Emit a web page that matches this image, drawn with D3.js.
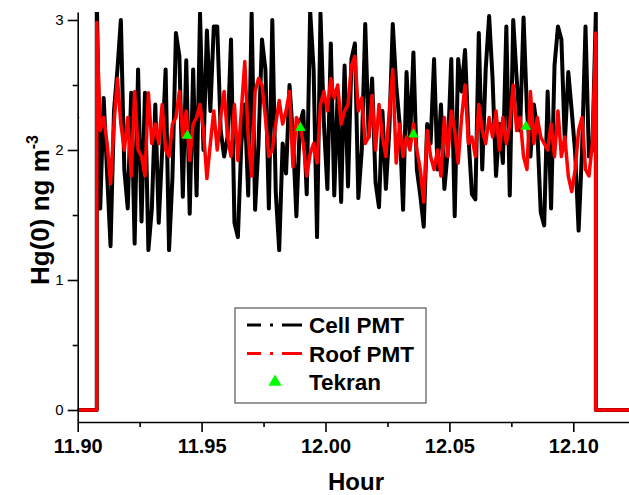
<!DOCTYPE html>
<html><head><meta charset="utf-8">
<script src="https://cdn.jsdelivr.net/npm/d3@7"></script>
<style>
body{margin:0;background:#fff;}
text{font-family:Arial,"Liberation Sans",sans-serif;}
</style></head>
<body><svg id="c" width="629" height="495"></svg>
<script>
// ---- data ----
const startHour = 11.9077;          // first reading (hour)
const stepSec = 5;                  // sampling interval, s
const offBefore = [11.895, 11.9077]; // instrument at 0 before start
const offAfter = [12.1091, 12.13];   // instrument at 0 after end
const cellPMT = [
 3.2,1.55,2.40,1.82,1.26,2.30,2.62,3.00,1.85,1.55,2.44,1.28,2.62,1.45,2.44,1.23,1.55,2.35,1.44,2.00,2.62,1.23,1.80,2.90,
 2.72,1.64,2.69,1.51,2.62,1.65,3.05,2.00,2.92,2.30,2.95,2.95,2.15,1.95,2.10,2.85,1.44,1.33,2.05,2.35,1.65,3.05,1.54,2.05,
 2.85,2.62,1.55,3.00,1.68,1.23,2.05,1.82,2.50,2.10,1.49,2.20,2.30,1.66,3.07,2.62,1.33,3.05,2.20,1.70,2.82,1.65,2.45,1.60,2.65,
 1.72,2.70,2.82,1.63,2.00,2.97,2.10,2.55,1.75,1.56,2.30,1.70,2.15,2.97,2.50,2.20,1.54,2.60,2.05,2.75,1.85,1.65,1.41,2.20,
 2.05,2.70,1.85,2.35,1.70,2.00,2.70,1.49,2.70,2.45,2.77,2.10,1.66,1.62,2.90,1.85,2.62,3.03,2.55,1.80,2.20,1.90,2.95,1.65,
 3.00,2.55,2.15,3.02,2.30,1.95,2.35,2.15,1.52,1.42,2.45,1.55,2.65,2.95,2.85,2.05,2.60,2.30,1.98,1.38,2.00,2.95,1.95,2.00,3.05];
const roofPMT = [
 2.98,2.15,2.25,2.05,1.74,2.20,2.55,2.20,2.00,2.25,1.80,2.45,2.00,1.95,1.80,2.44,2.05,2.20,2.05,2.35,2.00,1.95,2.20,2.25,
 2.45,2.10,2.30,1.92,2.20,2.25,2.35,2.15,1.78,2.05,2.30,2.00,2.25,2.45,2.10,1.95,2.35,1.92,2.30,2.68,2.10,1.80,2.45,2.55,
 2.50,2.25,1.95,2.00,2.20,2.38,2.20,2.30,2.45,1.87,2.25,2.20,2.05,1.80,1.97,2.05,1.90,2.35,2.45,2.30,2.55,2.40,2.50,2.20,2.30,
 2.35,2.65,2.72,2.30,2.40,2.05,2.10,2.42,2.00,2.35,2.10,1.95,2.30,2.62,1.90,2.20,1.95,2.10,2.00,2.20,2.00,1.85,1.60,2.15,
 1.95,1.85,2.00,1.80,2.25,1.95,2.30,2.15,1.90,2.25,2.50,2.05,2.10,1.95,2.35,2.15,2.05,2.25,2.10,2.30,2.00,2.25,2.05,2.20,
 2.50,2.15,2.25,1.95,1.85,2.45,2.05,2.25,2.10,2.05,2.00,2.20,1.95,2.30,1.95,2.10,1.80,1.68,1.85,2.15,2.25,1.85,1.80,2.05,2.90];
const tekranHour = [11.8987, 11.9442, 11.9899, 12.0355, 12.0809];
const tekranVal  = [2.27, 2.11, 2.17, 2.12, 2.18];
const xTicks = [11.90, 11.95, 12.00, 12.05, 12.10];
const xMinor = [11.925, 11.975, 12.025, 12.075];
const yTicks = [0, 1, 2, 3];
const yMinor = [0.5, 1.5, 2.5];
const legendLabels = ["Cell PMT", "Roof PMT", "Tekran"];

// ---- layout ----
const L = 77.7, R = 629, T = 12, B = 422;
const svg = d3.select("#c");
const x0 = d3.scaleLinear().domain([11.9, 12.10]).range([L, 573.3]);
const x = d3.scaleLinear().domain([11.9, x0.invert(R)]).range([L, R]);
const y0 = d3.scaleLinear().domain([0, 3]).range([410, 20]);
const y = d3.scaleLinear().domain([y0.invert(B), y0.invert(T)]).range([B, T]);

svg.append("defs").append("clipPath").attr("id","clip")
  .append("rect").attr("x",L).attr("y",T).attr("width",R-L).attr("height",B-T);

function series(vals){
  const pts = [[offBefore[0],0],[offBefore[1],0]];
  vals.forEach((v,i)=>pts.push([startHour + i*stepSec/3600, v]));
  pts.push([offAfter[0],0],[offAfter[1],0]);
  return pts;
}
const line = d3.line().x(d=>x(d[0])).y(d=>y(d[1]));
const g = svg.append("g").attr("clip-path","url(#clip)");
g.append("path").datum(series(cellPMT)).attr("d",line)
  .attr("fill","none").attr("stroke","#000").attr("stroke-width",4).attr("stroke-linejoin","round");
g.append("path").datum(series(roofPMT)).attr("d",line)
  .attr("fill","none").attr("stroke","#ff0000").attr("stroke-width",3.5).attr("stroke-linejoin","round");
const tri = d3.symbol().type(d3.symbolTriangle).size(50);
g.selectAll("path.tk").data(tekranHour).join("path").attr("class","tk")
  .attr("d",tri).attr("transform",(d,i)=>`translate(${x(d)},${y(tekranVal[i])})`)
  .attr("fill","#00ff00");

// ---- axes ----
const xa = svg.append("g").attr("transform",`translate(0,${B})`);
xa.call(d3.axisBottom(x).tickValues(xTicks).tickFormat(d3.format(".2f")).tickSize(10).tickSizeOuter(0));
xa.append("g").call(d3.axisBottom(x).tickValues(xMinor).tickFormat("").tickSize(5).tickSizeOuter(0))
  .select(".domain").remove();
xa.selectAll("path,line").attr("stroke","#000").attr("stroke-width",1.6);
xa.selectAll(".tick text").attr("font-size",20).attr("font-weight","bold")
  .attr("font-family","Arial, 'Liberation Sans', sans-serif").attr("fill","#000").attr("dy","0.95em").attr("y",12);

const ya = svg.append("g").attr("transform",`translate(${L},0)`);
ya.call(d3.axisLeft(y).tickValues(yTicks).tickFormat(d3.format("d")).tickSize(10).tickSizeOuter(0));
ya.append("g").call(d3.axisLeft(y).tickValues(yMinor).tickFormat("").tickSize(5).tickSizeOuter(0))
  .select(".domain").remove();
ya.selectAll("path,line").attr("stroke","#000").attr("stroke-width",1.6);
ya.selectAll(".tick text").attr("font-size",15)
  .attr("font-family","Arial, 'Liberation Sans', sans-serif").attr("fill","#000").attr("x",-14);

svg.append("text").attr("x",356).attr("y",490).attr("text-anchor","middle")
  .attr("font-size",24).attr("font-weight","bold").text("Hour");
const yl = svg.append("text").attr("transform","translate(49,210) rotate(-90)")
  .attr("text-anchor","middle").attr("font-size",26).attr("font-weight","bold");
yl.append("tspan").text("Hg(0) ng m");
yl.append("tspan").attr("dy",-11).attr("font-size",16).text("-3");

// ---- legend ----
const lg = svg.append("g");
lg.append("rect").attr("x",235).attr("y",308).attr("width",191).attr("height",95)
  .attr("fill","#fff").attr("stroke","#555").attr("stroke-width",1.2);
const ly = [325, 353.5, 382];
const lc = ["#000","#ff0000"];
[0,1].forEach(i=>{
  lg.append("line").attr("x1",247).attr("x2",302).attr("y1",ly[i]).attr("y2",ly[i])
    .attr("stroke",lc[i]).attr("stroke-width",3).attr("stroke-dasharray","14 9 3 9 20");
});
lg.append("path").attr("d",d3.symbol().type(d3.symbolTriangle).size(75))
  .attr("transform",`translate(275,${ly[2]})`).attr("fill","#00ff00");
legendLabels.forEach((t,i)=>{
  lg.append("text").attr("x",309).attr("y",ly[i]).attr("dy","0.36em")
    .attr("font-size",22.5).attr("font-weight","bold").text(t);
});
</script></body></html>
